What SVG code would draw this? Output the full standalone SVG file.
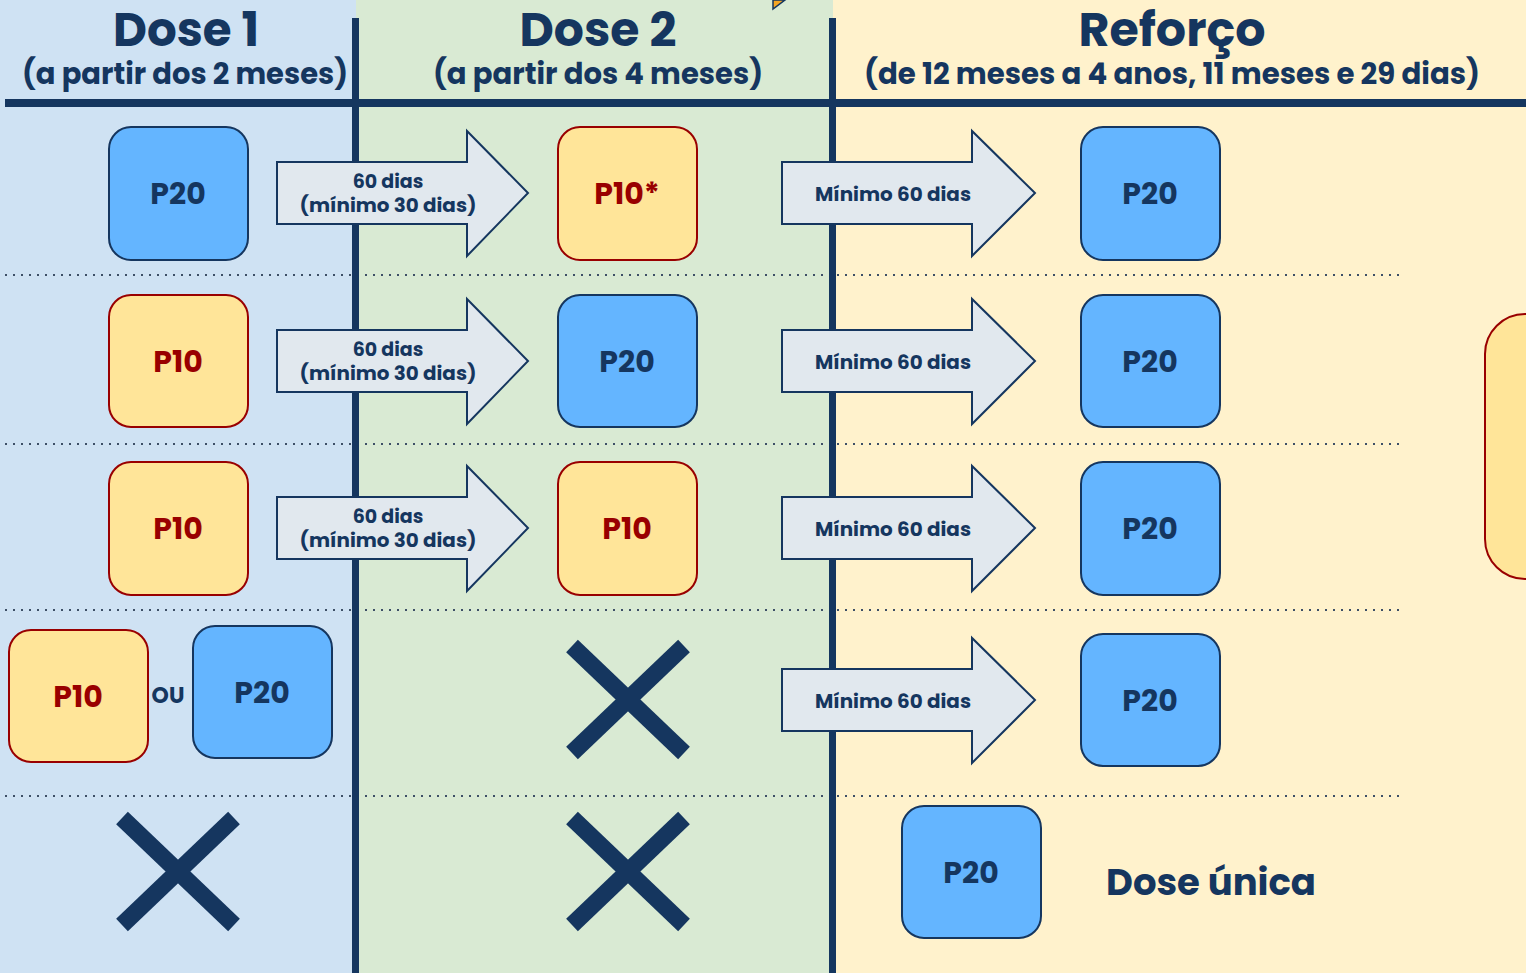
<svg xmlns="http://www.w3.org/2000/svg" width="1526" height="973" viewBox="0 0 1526 973">
<defs>
<style>
.t{font-family:"Poppins",Inter,"Noto Sans","Liberation Sans",sans-serif;font-weight:700;fill:#15365f}
.p20{fill:#64b5ff;stroke:#15365f;stroke-width:2}
.p10{fill:#ffe599;stroke:#990000;stroke-width:2}
.n20{font-family:"Poppins",Inter,"Noto Sans","Liberation Sans",sans-serif;font-weight:700;font-size:30px;fill:#15365f;text-anchor:middle}
.n10{font-family:"Poppins",Inter,"Noto Sans","Liberation Sans",sans-serif;font-weight:700;font-size:30px;fill:#990000;text-anchor:middle}
.arr{fill:#e1e8ee;stroke:#15365f;stroke-width:2;stroke-linejoin:miter}
.al{font-family:"Poppins",Inter,"Noto Sans","Liberation Sans",sans-serif;font-weight:700;font-size:19px;fill:#15365f;text-anchor:middle}
.dot{stroke:#3d4f66;stroke-width:2;stroke-dasharray:2 6;fill:none}
.x{stroke:#15365f;stroke-width:17;stroke-linecap:butt}
.bar{fill:#15365f}
</style>
</defs>
<g id="background">
<rect x="0" y="0" width="356" height="973" fill="#cfe2f3"/>
<rect x="356" y="0" width="477" height="973" fill="#d9ead3"/>
<rect x="833" y="0" width="693" height="973" fill="#fff2cc"/>
<polygon points="773,0 785,0 773,9" fill="#f6a623" stroke="#15365f" stroke-width="1.5"/>
</g>
<g id="separators">
<line class="dot" x1="5" y1="275" x2="1405" y2="275"/>
<line class="dot" x1="5" y1="444" x2="1405" y2="444"/>
<line class="dot" x1="5" y1="610" x2="1405" y2="610"/>
<line class="dot" x1="5" y1="796" x2="1405" y2="796"/>
</g>
<g id="grid">
<rect class="bar" x="352" y="18" width="7" height="955"/>
<rect class="bar" x="829" y="18" width="7" height="955"/>
<rect class="bar" x="5" y="99" width="1521" height="8"/>
</g>
<g id="headers">
<text class="t" x="186" y="46" font-size="47" text-anchor="middle" textLength="146" lengthAdjust="spacingAndGlyphs">Dose 1</text>
<text class="t" x="185" y="84" font-size="30" text-anchor="middle" textLength="326" lengthAdjust="spacingAndGlyphs">(a partir dos 2 meses)</text>
<text class="t" x="598" y="46" font-size="47" text-anchor="middle" textLength="157" lengthAdjust="spacingAndGlyphs">Dose 2</text>
<text class="t" x="598" y="84" font-size="30" text-anchor="middle" textLength="330" lengthAdjust="spacingAndGlyphs">(a partir dos 4 meses)</text>
<text class="t" x="1172" y="46" font-size="47" text-anchor="middle" textLength="187" lengthAdjust="spacingAndGlyphs">Reforço</text>
<text class="t" x="1172" y="84" font-size="30" text-anchor="middle" textLength="616" lengthAdjust="spacingAndGlyphs">(de 12 meses a 4 anos, 11 meses e 29 dias)</text>
</g>
<g id="connectors">
<g id="arrow-r1-a">
<polygon class="arr" points="277,162 467,162 467,131 528,193 467,256 467,224 277,224"/>
<text class="al" x="388" y="188">60 dias</text>
<text class="al" x="388" y="212" textLength="177" lengthAdjust="spacingAndGlyphs">(mínimo 30 dias)</text>
</g>
<g id="arrow-r1-b">
<polygon class="arr" points="782,162 972,162 972,131 1035,193 972,256 972,224 782,224"/>
<text class="al" x="893" y="201" textLength="156" lengthAdjust="spacingAndGlyphs">Mínimo 60 dias</text>
</g>
<g id="arrow-r2-a" transform="translate(0,168)">
<polygon class="arr" points="277,162 467,162 467,131 528,193 467,256 467,224 277,224"/>
<text class="al" x="388" y="188">60 dias</text>
<text class="al" x="388" y="212" textLength="177" lengthAdjust="spacingAndGlyphs">(mínimo 30 dias)</text>
</g>
<g id="arrow-r2-b" transform="translate(0,168)">
<polygon class="arr" points="782,162 972,162 972,131 1035,193 972,256 972,224 782,224"/>
<text class="al" x="893" y="201" textLength="156" lengthAdjust="spacingAndGlyphs">Mínimo 60 dias</text>
</g>
<g id="arrow-r3-a" transform="translate(0,335)">
<polygon class="arr" points="277,162 467,162 467,131 528,193 467,256 467,224 277,224"/>
<text class="al" x="388" y="188">60 dias</text>
<text class="al" x="388" y="212" textLength="177" lengthAdjust="spacingAndGlyphs">(mínimo 30 dias)</text>
</g>
<g id="arrow-r3-b" transform="translate(0,335)">
<polygon class="arr" points="782,162 972,162 972,131 1035,193 972,256 972,224 782,224"/>
<text class="al" x="893" y="201" textLength="156" lengthAdjust="spacingAndGlyphs">Mínimo 60 dias</text>
</g>
<g id="arrow-r4-b" transform="translate(0,507)">
<polygon class="arr" points="782,162 972,162 972,131 1035,193 972,256 972,224 782,224"/>
<text class="al" x="893" y="201" textLength="156" lengthAdjust="spacingAndGlyphs">Mínimo 60 dias</text>
</g>
</g>
<g id="r1-d1"><rect class="p20" x="109" y="127" width="139" height="133" rx="22"/><text class="n20" x="178" y="204">P20</text></g>
<g id="r1-d2"><rect class="p10" x="558" y="127" width="139" height="133" rx="22"/><text class="n10" x="627" y="204">P10*</text></g>
<g id="r1-r"><rect class="p20" x="1081" y="127" width="139" height="133" rx="22"/><text class="n20" x="1150" y="204">P20</text></g>
<g id="r2-d1"><rect class="p10" x="109" y="295" width="139" height="132" rx="22"/><text class="n10" x="178" y="372">P10</text></g>
<g id="r2-d2"><rect class="p20" x="558" y="295" width="139" height="132" rx="22"/><text class="n20" x="627" y="372">P20</text></g>
<g id="r2-r"><rect class="p20" x="1081" y="295" width="139" height="132" rx="22"/><text class="n20" x="1150" y="372">P20</text></g>
<g id="r3-d1"><rect class="p10" x="109" y="462" width="139" height="133" rx="22"/><text class="n10" x="178" y="539">P10</text></g>
<g id="r3-d2"><rect class="p10" x="558" y="462" width="139" height="133" rx="22"/><text class="n10" x="627" y="539">P10</text></g>
<g id="r3-r"><rect class="p20" x="1081" y="462" width="139" height="133" rx="22"/><text class="n20" x="1150" y="539">P20</text></g>
<g id="r4-d1a"><rect class="p10" x="9" y="630" width="139" height="132" rx="22"/><text class="n10" x="78" y="707">P10</text></g>
<text class="t" x="168" y="703" font-size="22" text-anchor="middle">OU</text>
<g id="r4-d1b"><rect class="p20" x="193" y="626" width="139" height="132" rx="22"/><text class="n20" x="262" y="703">P20</text></g>
<g id="r4-d2"><line class="x" x1="572" y1="646" x2="684" y2="753"/><line class="x" x1="684" y1="646" x2="572" y2="753"/></g>
<g id="r4-r"><rect class="p20" x="1081" y="634" width="139" height="132" rx="22"/><text class="n20" x="1150" y="711">P20</text></g>
<g id="r5-d1"><line class="x" x1="122" y1="818" x2="234" y2="925"/><line class="x" x1="234" y1="818" x2="122" y2="925"/></g>
<g id="r5-d2"><line class="x" x1="572" y1="818" x2="684" y2="925"/><line class="x" x1="684" y1="818" x2="572" y2="925"/></g>
<g id="r5-r"><rect class="p20" x="902" y="806" width="139" height="132" rx="22"/><text class="n20" x="971" y="883">P20</text></g>
<text class="t" x="1211" y="895" font-size="37" text-anchor="middle" textLength="210" lengthAdjust="spacingAndGlyphs">Dose única</text>
<g id="side-node"><rect class="p10" x="1485" y="314" width="120" height="265" rx="40"/></g>
</svg>
